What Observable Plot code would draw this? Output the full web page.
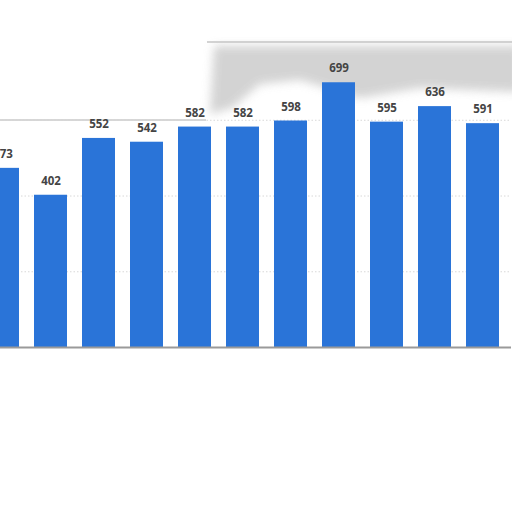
<!DOCTYPE html>
<html>
<head>
<meta charset="utf-8">
<script src="https://cdn.jsdelivr.net/npm/d3@7"></script>
<script src="https://cdn.jsdelivr.net/npm/@observablehq/plot@0.6"></script>
<style>
  html, body { margin: 0; padding: 0; background: #fff; }
  #wrap { position: relative; width: 512px; height: 512px; overflow: hidden; }
  #chart { position: absolute; left: 0; top: 0; }
  #smudge { position: absolute; left: 0; top: 0; }
</style>
</head>
<body>
<div id="wrap">
  <svg id="smudge" width="512" height="512">
    <defs><filter id="bl" x="-20%" y="-50%" width="140%" height="200%"><feGaussianBlur stdDeviation="5"/></filter></defs>
    <path d="M214,46 L520,46 L520,92 L420,88 L360,98 L300,80 L260,84 L232,108 L210,114 Z" fill="#cfcfcf" filter="url(#bl)" opacity="0.9"/>
    <line x1="207" y1="42" x2="512" y2="42" stroke="#c4c4c4" stroke-width="1.5"/>
    <line x1="0" y1="120" x2="206" y2="120" stroke="#c8c8c8" stroke-width="1.5"/>
  </svg>
  <div id="chart"></div>
</div>
<script>
const years = ["2010", "2011", "2012", "2013", "2014", "2015", "2016", "2017", "2018", "2019", "2020"];
const values = [473, 402, 552, 542, 582, 582, 598, 699, 595, 636, 591];
const gridTicks = [200, 400, 600];

const data = years.map((year, i) => ({year, value: values[i]}));

const chart = Plot.plot({
  width: 512,
  height: 512,
  style: {background: "transparent", overflow: "visible"},
  x: {domain: years, range: [-14, 499], paddingInner: 0.3125, paddingOuter: 0, axis: null},
  y: {domain: [0, 800], range: [347, 44], axis: null},
  marks: [
    Plot.ruleY(gridTicks, {stroke: "#d8d8d8", strokeDasharray: "1.5,2", strokeWidth: 1}),
    Plot.barY(data, {x: "year", y: "value", fill: "#2a74d8"}),
    Plot.ruleY([0], {stroke: "#9a9a9a", strokeWidth: 2}),
    Plot.text(data, {x: "year", y: "value", text: d => String(d.value), dy: -14, fill: "#444", fontSize: 11.5, fontWeight: "bold", fontFamily: "Open Sans, Arial, sans-serif"})
  ]
});
document.getElementById("chart").appendChild(chart);
</script>
</body>
</html>
